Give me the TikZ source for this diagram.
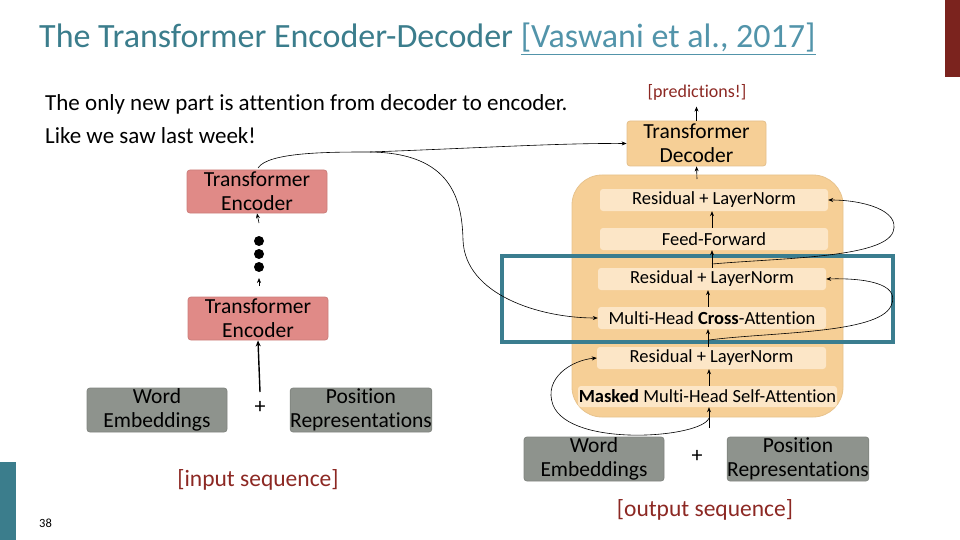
\documentclass[tikz,border=0pt]{standalone}
\usepackage{fontspec}
\setmainfont{Carlito}[RawFeature=-liga]
\usetikzlibrary{arrows.meta,calc}
\definecolor{titleteal}{RGB}{59,125,140}
\definecolor{linkteal}{RGB}{82,148,170}
\definecolor{barred}{RGB}{123,35,30}
\definecolor{encfill}{RGB}{224,138,135}
\definecolor{embgray}{RGB}{142,147,141}
\definecolor{decfill}{RGB}{246,207,150}
\definecolor{innerfill}{RGB}{252,230,199}
\definecolor{seqred}{RGB}{140,40,35}
\definecolor{boxteal}{RGB}{58,125,143}
\tikzset{
  encbox/.style={draw=encfill!85!black!60!encfill, line width=0.8pt, fill=encfill, rounded corners=3pt, minimum width=140pt, minimum height=43pt, align=center, inner sep=0pt, font=\fontsize{21.5}{24}\selectfont},
  embbox/.style={draw=embgray!80!black!50!embgray, line width=0.8pt, fill=embgray, rounded corners=3pt, minimum width=140pt, minimum height=44pt, align=center, inner sep=0pt, font=\fontsize{21.5}{24}\selectfont},
  decbox/.style={draw=decfill!85!black!50!decfill, line width=0.8pt, fill=decfill, rounded corners=3pt, minimum width=139pt, minimum height=45pt, align=center, inner sep=0pt, font=\fontsize{21.5}{24}\selectfont},
  innerbox/.style={fill=innerfill, rounded corners=3pt, minimum width=228pt, minimum height=22pt, inner sep=0pt, font=\fontsize{18.5}{20}\selectfont},
  arr/.style={-{Stealth[length=5pt,width=4pt]}, line width=0.6pt},
  curvearr/.style={-{Stealth[length=5pt,width=4pt]}, line width=0.6pt},
  dotnode/.style={circle, fill=black, minimum size=10pt, inner sep=0pt},
  seqlabel/.style={text=seqred, font=\fontsize{23.5}{26}\selectfont},
}
\begin{document}
\begin{tikzpicture}[x=1pt,y=-1pt]
\useasboundingbox (0,0) rectangle (960,540);
% side bars
\fill[barred] (945,0) rectangle (960,77);
\fill[titleteal] (0,462) rectangle (16,540);
\node[anchor=base west, inner sep=0pt, font=\fontsize{12.5}{13}\selectfont] (pagenum) at (39,527) {38};
% title
\node[anchor=base west, inner sep=0pt, text=titleteal, font=\fontsize{34}{36}\selectfont] (title) at (39,48) {The Transformer Encoder-Decoder \textcolor{linkteal}{\underline{[Vaswani et al., 2017]}}};
% body text
\node[anchor=base west, inner sep=0pt, font=\fontsize{23}{25}\selectfont] (line1) at (45,111) {The only new part is attention from decoder to encoder.};
\node[anchor=base west, inner sep=0pt, font=\fontsize{23}{25}\selectfont] (line2) at (45,144) {Like we saw last week!};

% ---------- encoder side ----------
\node[encbox] (encT) at (257,191.5) {Transformer\\Encoder};
\node[encbox] (encB) at (258,318.5) {Transformer\\Encoder};
\node[dotnode] (d1) at (259,241) {};
\node[dotnode] (d2) at (259,254) {};
\node[dotnode] (d3) at (259,267) {};
\coordinate (a1) at (259,223);
\coordinate (a2) at (259,286);
\draw[arr] (a1) -- (encT.south);
\draw[arr] (a2) -- (d3.south |- 0,278);
\node[embbox] (weL) at (157,410) {Word\\Embeddings};
\node[embbox] (prL) at (361,410) {Position\\Representations};
\node[font=\fontsize{22}{24}\selectfont, inner sep=0pt] (plusL) at (260,407) {+};
\coordinate (inL) at (260,392);
\draw[-{Stealth[length=6pt,width=5pt]}, line width=1.4pt] (inL) -- (encB.south);
\node[seqlabel] (inseq) at (258,480) {[input sequence]};

% ---------- decoder side ----------
\node[text=seqred, font=\fontsize{18}{20}\selectfont] (pred) at (697,92) {[predictions!]};
\node[decbox] (dec) at (696.5,143.5) {Transformer\\Decoder};
\draw[arr] (dec.north) -- ++(0,-14);
\fill[decfill] (572,175) [rounded corners=30pt] rectangle (843,417);
\draw[decfill!85!black!40!decfill, line width=0.8pt, rounded corners=30pt] (572,175) rectangle (843,417);
\coordinate (bigtop) at (697,179);
\draw[arr] (bigtop) -- (dec.south);

\node[innerbox] (R1) at (714,200) {Residual + LayerNorm};
\node[innerbox] (FF) at (714,239) {Feed-Forward};
\node[innerbox] (R2) at (712,279) {Residual + LayerNorm};
\node[innerbox] (CA) at (712,318) {Multi-Head \textbf{Cross}-Attention};
\node[innerbox, minimum width=229pt] (R3) at (711.5,358) {Residual + LayerNorm};
\node[innerbox, minimum width=259pt, minimum height=21pt] (MS) at (707.5,396.5) {\textbf{Masked} Multi-Head Self-Attention};

\node[embbox] (weR) at (594,459) {Word\\Embeddings};
\node[embbox] (prR) at (798,459) {Position\\Representations};
\node[font=\fontsize{22}{24}\selectfont, inner sep=0pt] (plusR) at (697,456) {+};
\node[seqlabel] (outseq) at (705,510) {[output sequence]};

% teal highlight box
\draw[boxteal, line width=3.5pt] (502,256) rectangle (893,342);

% vertical flow arrows
\coordinate (sp1) at (709,0);
\coordinate (sp2) at (708,0);
\coordinate (sp3) at (712,0);
\coordinate (inR) at (709,428);
\draw[arr] (inR) -- (MS.south -| sp1);
\draw[arr] (MS.north -| sp1) -- (R3.south -| sp1);
\draw[arr] (R3.north -| sp2) -- (CA.south -| sp2);
\draw[arr] (CA.north -| sp2) -- (R2.south -| sp2);
\draw[arr] (R2.north -| sp3) -- (FF.south -| sp3);
\draw[arr] (FF.north -| sp3) -- (R1.south -| sp3);

% residual loops
\coordinate (l1s) at (709,418);
\draw[curvearr] (l1s) .. controls (702,438) and (570,448) .. (553,405) .. controls (543,378) and (572,360) .. (R3.west);
\coordinate (l2s) at (709,340);
\draw[curvearr] (l2s) .. controls (770,332) and (878,334) .. (891,306) .. controls (902,282) and (860,278) .. (R2.east);
\coordinate (l3s) at (712,264);
\draw[curvearr] (l3s) .. controls (780,258) and (883,258) .. (893,232) .. controls (901,210) and (862,200) .. (R1.east);

% encoder -> decoder
\coordinate (encout) at (258,168);
\coordinate (branch) at (370,152);
\draw[curvearr] (encout) .. controls (268,152) and (330,152) .. (branch) .. controls (480,148) and (560,143) .. (dec.west);
\draw[curvearr] (branch) .. controls (452,153) and (462,200) .. (463,240) .. controls (465,295) and (540,318) .. (CA.west);
\end{tikzpicture}
\end{document}
